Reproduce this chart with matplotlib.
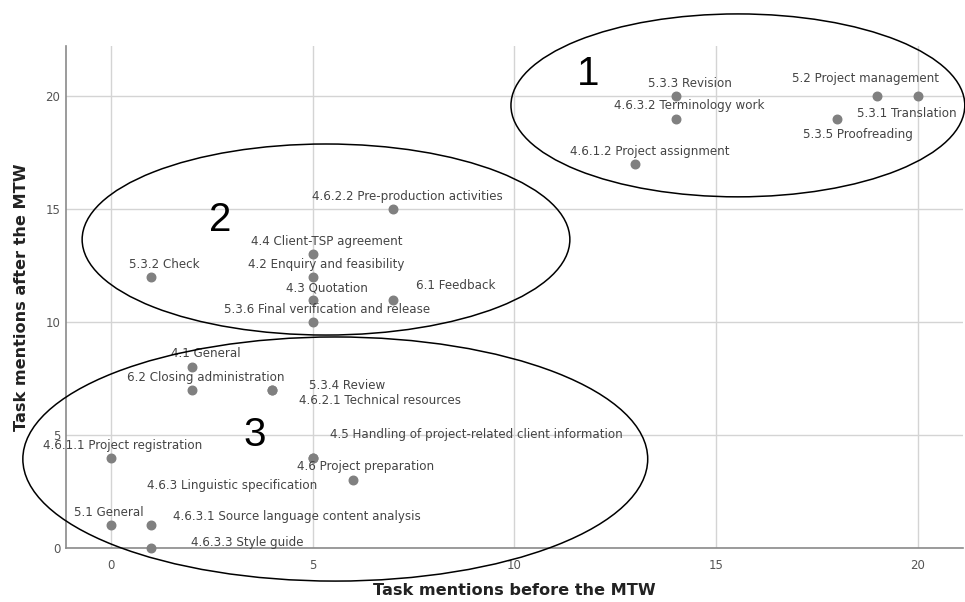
import matplotlib
matplotlib.use("Agg")
import matplotlib.pyplot as plt
from matplotlib.patches import Ellipse

# task labels, mentions before / after the MTW
tasks = [
    "5.3.3 Revision", "4.6.3.2 Terminology work", "4.6.1.2 Project assignment",
    "5.2 Project management", "5.3.1 Translation", "5.3.5 Proofreading",
    "4.6.2.2 Pre-production activities", "4.4 Client-TSP agreement",
    "4.2 Enquiry and feasibility", "5.3.2 Check", "4.3 Quotation", "6.1 Feedback",
    "5.3.6 Final verification and release", "4.1 General", "6.2 Closing administration",
    "5.3.4 Review", "4.6.2.1 Technical resources", "4.6.1.1 Project registration",
    "4.5 Handling of project-related client information", "4.6 Project preparation",
    "4.6.3 Linguistic specification", "5.1 General",
    "4.6.3.1 Source language content analysis", "4.6.3.3 Style guide",
]
before = [14, 14, 13, 19, 20, 18, 7, 5, 5, 1, 5, 7, 5, 2, 2, 4, 4, 0, 5, 6, 5, 0, 1, 1]
after = [20, 19, 17, 20, 20, 19, 15, 13, 12, 12, 11, 11, 10, 8, 7, 7, 7, 4, 4, 3, 4, 1, 1, 0]

# label offsets from the point, in pixels (as placed in the original)
offsets = [
    (14, 13), (13, 13), (14, 13), (-12, 18), (-11, -17), (21, -16),
    (14, 13), (14, 13), (14, 13), (13, 13), (14, 12), (62, 14),
    (14, 13), (14, 14), (14, 12), (75, 4), (108, -11), (12, 12),
    (164, 23), (13, 14), (-81, -28), (-2, 13), (146, 9), (96, 6),
]

fig = plt.figure(figsize=(9.65, 6.02), dpi=100)
ax = fig.add_axes([0.0684, 0.0897, 0.9295, 0.8339])

ax.set_xlim(-1.115, 21.12)
ax.set_ylim(0, 22.23)
ax.set_xticks([0, 5, 10, 15, 20])
ax.set_yticks([0, 5, 10, 15, 20])
ax.grid(True, color="#d4d4d4", linewidth=1)
ax.set_axisbelow(True)
for s in ["top", "right"]:
    ax.spines[s].set_visible(False)
for s in ["left", "bottom"]:
    ax.spines[s].set_color("#8a8a8a")
    ax.spines[s].set_linewidth(1.2)
ax.tick_params(axis="x", length=0, pad=8, labelsize=8.5, labelcolor="#555555")
ax.tick_params(axis="y", length=0, pad=4, labelsize=8.5, labelcolor="#555555")

ax.scatter(before, after, s=38, color="#808080", zorder=3, clip_on=False)

for name, x, y, off in zip(tasks, before, after, offsets):
    ax.annotate(name, (x, y), xytext=off, textcoords="offset pixels",
                ha="center", va="center", fontsize=8.6, color="#444444",
                annotation_clip=False, zorder=4)

ax.set_xlabel("Task mentions before the MTW", fontsize=11.6, fontweight="bold",
              color="#222222", labelpad=8)
ax.set_ylabel("Task mentions after the MTW", fontsize=11.6, fontweight="bold",
              color="#222222", labelpad=12)

# group outlines
for cx, cy, w, h in [(15.54, 19.60, 11.25, 8.10),
                     (5.33, 13.66, 12.09, 8.46),
                     (5.56, 3.94, 15.49, 10.81)]:
    ax.add_patch(Ellipse((cx, cy), w, h, fill=False, edgecolor="black",
                         linewidth=1.1, clip_on=False, zorder=5))

for txt, x, y in [("1", 11.82, 20.99), ("2", 2.70, 14.53), ("3", 3.57, 5.00)]:
    ax.text(x, y, txt, fontsize=29, family="Liberation Sans", ha="center",
            va="center", color="black", zorder=6)

fig.savefig("out.png", dpi=100)
